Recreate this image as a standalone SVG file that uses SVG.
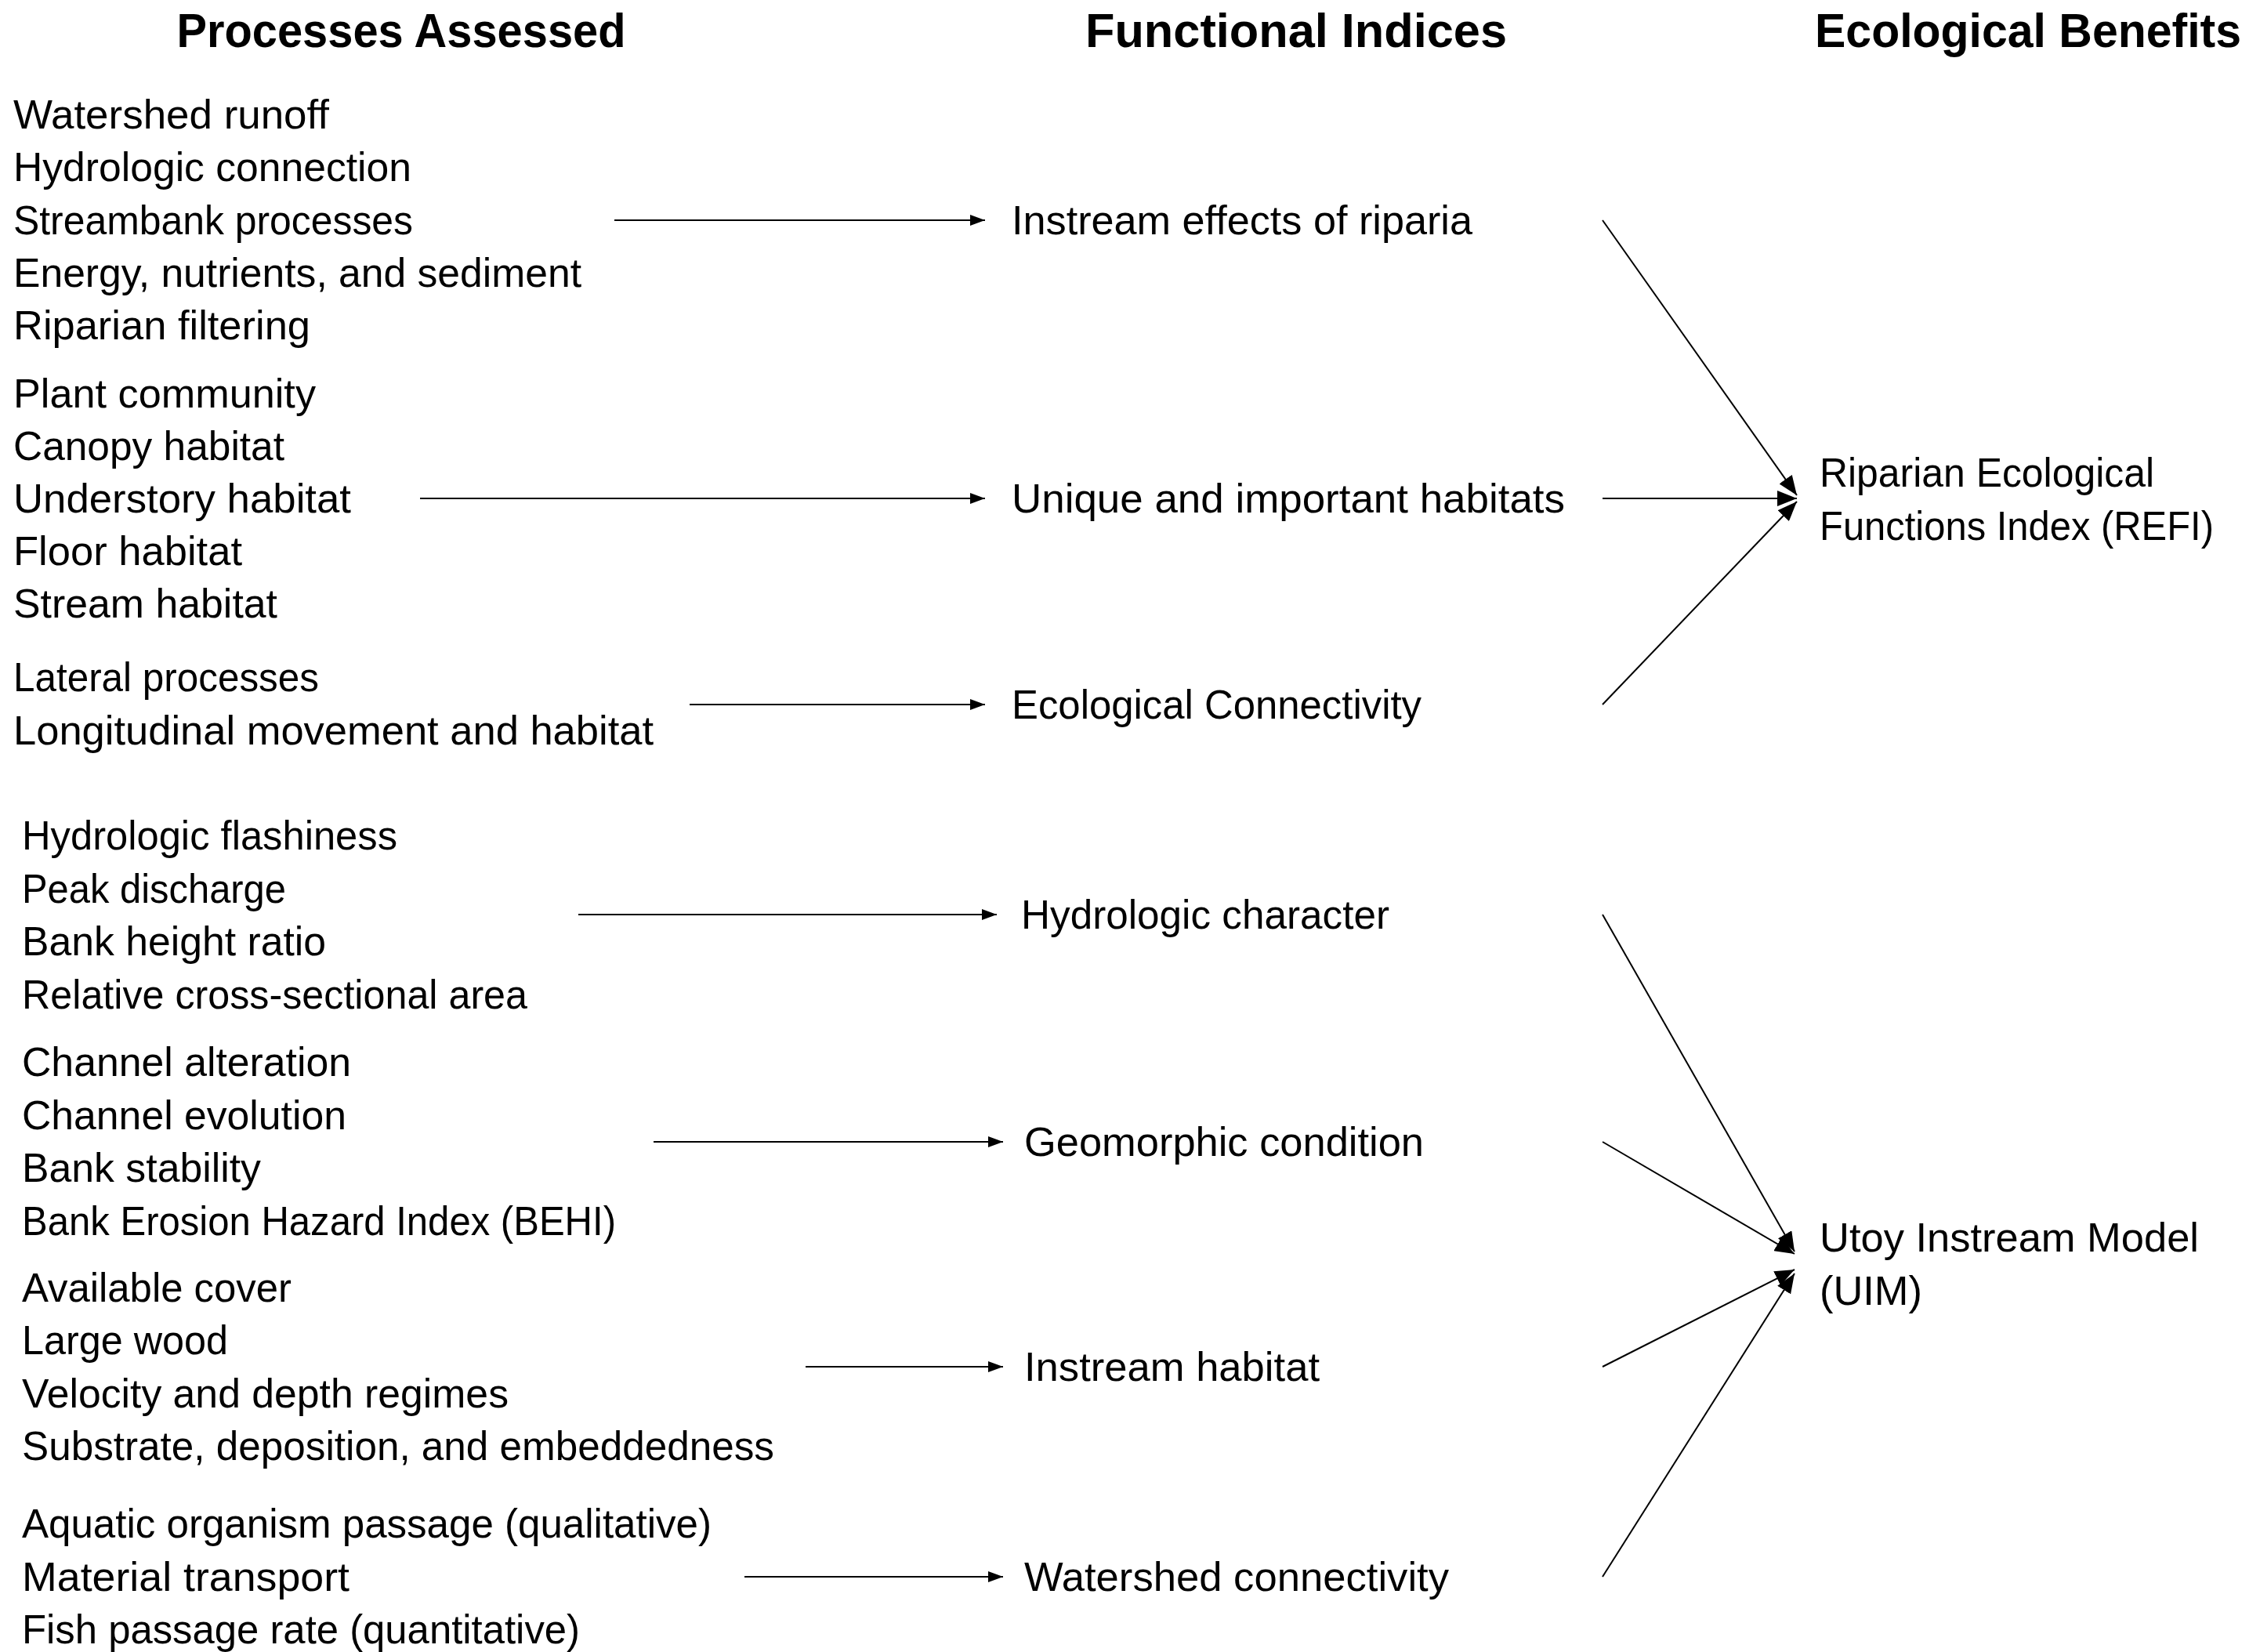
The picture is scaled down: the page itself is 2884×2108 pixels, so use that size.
<svg xmlns="http://www.w3.org/2000/svg" width="2884" height="2108" viewBox="0 0 2884 2108">
<style>
text{font-family:"Liberation Sans",Arial,sans-serif;fill:#000}
.h{font-size:61px;font-weight:bold;text-anchor:middle}
.t{font-size:52px}
.c line{stroke:#000;stroke-width:2}
</style>
<defs>
<marker id="a" markerUnits="userSpaceOnUse" markerWidth="20" markerHeight="14" refX="19" refY="7" orient="auto"><path d="M0,0 L19,7 L0,14 z" fill="#000"/></marker>
<marker id="b" markerUnits="userSpaceOnUse" markerWidth="26" markerHeight="20" refX="25" refY="10" orient="auto"><path d="M0,0 L25,10 L0,20 z" fill="#000"/></marker>
</defs>
<rect width="2884" height="2108" fill="#fff"/>
<g id="headers">
<text class="h" x="512" y="60" textLength="573" lengthAdjust="spacingAndGlyphs">Processes Assessed</text>
<text class="h" x="1654" y="60" textLength="538" lengthAdjust="spacingAndGlyphs">Functional Indices</text>
<text class="h" x="2588" y="60" textLength="544" lengthAdjust="spacingAndGlyphs">Ecological Benefits</text>
</g>
<g id="proc1">
<text class="t" x="17" y="164" textLength="403" lengthAdjust="spacingAndGlyphs">Watershed runoff</text>
<text class="t" x="17" y="231" textLength="508" lengthAdjust="spacingAndGlyphs">Hydrologic connection</text>
<text class="t" x="17" y="299" textLength="510" lengthAdjust="spacingAndGlyphs">Streambank processes</text>
<text class="t" x="17" y="366" textLength="725" lengthAdjust="spacingAndGlyphs">Energy, nutrients, and sediment</text>
<text class="t" x="17" y="433" textLength="379" lengthAdjust="spacingAndGlyphs">Riparian filtering</text>
</g>
<g id="proc2">
<text class="t" x="17" y="520" textLength="386" lengthAdjust="spacingAndGlyphs">Plant community</text>
<text class="t" x="17" y="587" textLength="346" lengthAdjust="spacingAndGlyphs">Canopy habitat</text>
<text class="t" x="17" y="654" textLength="431" lengthAdjust="spacingAndGlyphs">Understory habitat</text>
<text class="t" x="17" y="721" textLength="292" lengthAdjust="spacingAndGlyphs">Floor habitat</text>
<text class="t" x="17" y="788" textLength="337" lengthAdjust="spacingAndGlyphs">Stream habitat</text>
</g>
<g id="proc3">
<text class="t" x="17" y="882" textLength="390" lengthAdjust="spacingAndGlyphs">Lateral processes</text>
<text class="t" x="17" y="950" textLength="817" lengthAdjust="spacingAndGlyphs">Longitudinal movement and habitat</text>
</g>
<g id="proc4">
<text class="t" x="28" y="1084" textLength="479" lengthAdjust="spacingAndGlyphs">Hydrologic flashiness</text>
<text class="t" x="28" y="1152" textLength="337" lengthAdjust="spacingAndGlyphs">Peak discharge</text>
<text class="t" x="28" y="1219" textLength="388" lengthAdjust="spacingAndGlyphs">Bank height ratio</text>
<text class="t" x="28" y="1287" textLength="645" lengthAdjust="spacingAndGlyphs">Relative cross-sectional area</text>
</g>
<g id="proc5">
<text class="t" x="28" y="1373" textLength="420" lengthAdjust="spacingAndGlyphs">Channel alteration</text>
<text class="t" x="28" y="1441" textLength="414" lengthAdjust="spacingAndGlyphs">Channel evolution</text>
<text class="t" x="28" y="1508" textLength="305" lengthAdjust="spacingAndGlyphs">Bank stability</text>
<text class="t" x="28" y="1576" textLength="758" lengthAdjust="spacingAndGlyphs">Bank Erosion Hazard Index (BEHI)</text>
</g>
<g id="proc6">
<text class="t" x="28" y="1661" textLength="344" lengthAdjust="spacingAndGlyphs">Available cover</text>
<text class="t" x="28" y="1728" textLength="263" lengthAdjust="spacingAndGlyphs">Large wood</text>
<text class="t" x="28" y="1796" textLength="621" lengthAdjust="spacingAndGlyphs">Velocity and depth regimes</text>
<text class="t" x="28" y="1863" textLength="960" lengthAdjust="spacingAndGlyphs">Substrate, deposition, and embeddedness</text>
</g>
<g id="proc7">
<text class="t" x="28" y="1962" textLength="880" lengthAdjust="spacingAndGlyphs">Aquatic organism passage (qualitative)</text>
<text class="t" x="28" y="2030" textLength="418" lengthAdjust="spacingAndGlyphs">Material transport</text>
<text class="t" x="28" y="2097" textLength="712" lengthAdjust="spacingAndGlyphs">Fish passage rate (quantitative)</text>
</g>
<g id="idx1"><text class="t" x="1291" y="299" textLength="588" lengthAdjust="spacingAndGlyphs">Instream effects of riparia</text></g>
<g id="idx2"><text class="t" x="1291" y="654" textLength="706" lengthAdjust="spacingAndGlyphs">Unique and important habitats</text></g>
<g id="idx3"><text class="t" x="1291" y="917" textLength="523" lengthAdjust="spacingAndGlyphs">Ecological Connectivity</text></g>
<g id="idx4"><text class="t" x="1303" y="1185" textLength="470" lengthAdjust="spacingAndGlyphs">Hydrologic character</text></g>
<g id="idx5"><text class="t" x="1307" y="1475" textLength="510" lengthAdjust="spacingAndGlyphs">Geomorphic condition</text></g>
<g id="idx6"><text class="t" x="1307" y="1762" textLength="377" lengthAdjust="spacingAndGlyphs">Instream habitat</text></g>
<g id="idx7"><text class="t" x="1307" y="2030" textLength="542" lengthAdjust="spacingAndGlyphs">Watershed connectivity</text></g>
<g id="refi">
<text class="t" x="2322" y="621" textLength="427" lengthAdjust="spacingAndGlyphs">Riparian Ecological</text>
<text class="t" x="2322" y="689" textLength="503" lengthAdjust="spacingAndGlyphs">Functions Index (REFI)</text>
</g>
<g id="uim">
<text class="t" x="2322" y="1597" textLength="484" lengthAdjust="spacingAndGlyphs">Utoy Instream Model</text>
<text class="t" x="2322" y="1665" textLength="131" lengthAdjust="spacingAndGlyphs">(UIM)</text>
</g>
<g id="connectors" class="c">
<line x1="784" y1="281" x2="1257" y2="281" marker-end="url(#a)"/>
<line x1="536" y1="636" x2="1257" y2="636" marker-end="url(#a)"/>
<line x1="880" y1="899" x2="1257" y2="899" marker-end="url(#a)"/>
<line x1="738" y1="1167" x2="1272" y2="1167" marker-end="url(#a)"/>
<line x1="834" y1="1457" x2="1280" y2="1457" marker-end="url(#a)"/>
<line x1="1028" y1="1744" x2="1280" y2="1744" marker-end="url(#a)"/>
<line x1="950" y1="2012" x2="1280" y2="2012" marker-end="url(#a)"/>
<line x1="2045" y1="281" x2="2293" y2="632" marker-end="url(#b)"/>
<line x1="2045" y1="636" x2="2293" y2="636" marker-end="url(#b)"/>
<line x1="2045" y1="899" x2="2293" y2="640" marker-end="url(#b)"/>
<line x1="2045" y1="1167" x2="2290" y2="1597" marker-end="url(#b)"/>
<line x1="2045" y1="1457" x2="2290" y2="1600" marker-end="url(#b)"/>
<line x1="2045" y1="1744" x2="2290" y2="1620" marker-end="url(#b)"/>
<line x1="2045" y1="2012" x2="2290" y2="1625" marker-end="url(#b)"/>
</g>
</svg>
